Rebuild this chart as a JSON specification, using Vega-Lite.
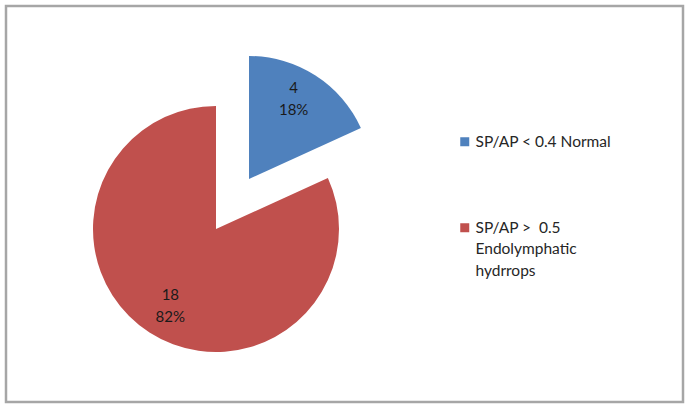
{
  "$schema": "https://vega.github.io/schema/vega-lite/v6.json",
  "description": "SP/AP ratio: normal vs endolymphatic hydrops",
  "width": 677,
  "height": 396,
  "padding": {"left": 4, "top": 4, "right": 5, "bottom": 4},
  "data": {
    "values": [
      {"category": "SP/AP < 0.4 Normal", "count": 4, "percent": "18%", "order": 1},
      {"category": "SP/AP >  0.5 Endolymphatic hydrrops", "count": 18, "percent": "82%", "order": 2}
    ]
  },
  "transform": [
    {"calculate": "datum.count + '\\n' + datum.percent", "as": "label"}
  ],
  "layer": [
    {
      "transform": [{"aggregate": [{"op": "count", "as": "n"}]}],
      "mark": {"type": "rect", "fill": null, "stroke": "#a6a6a6", "strokeWidth": 2.5}
    },
    {
      "encoding": {
        "theta": {"field": "count", "type": "quantitative", "stack": true},
        "order": {"field": "order", "type": "quantitative"},
        "color": {
          "field": "category",
          "type": "nominal",
          "scale": {
            "domain": ["SP/AP < 0.4 Normal", "SP/AP >  0.5 Endolymphatic hydrrops"],
            "range": ["#4F81BD", "#C0504D"]
          },
          "legend": {
            "title": null,
            "orient": "none",
            "legendX": 451,
            "legendY": 128,
            "padding": 0,
            "symbolType": "square",
            "symbolSize": 81,
            "symbolStrokeWidth": 0,
            "labelFont": "Lato",
            "labelFontSize": 15.5,
            "labelColor": "#262626",
            "labelLimit": 300,
            "labelOffset": 3,
            "rowPadding": 69,
            "labelExpr": "datum.label == 'SP/AP >  0.5 Endolymphatic hydrrops' ? ['SP/AP >\u00a0 0.5', 'Endolymphatic', 'hydrrops'] : datum.label"
          }
        }
      },
      "layer": [
        {
          "mark": {"type": "arc", "radius": 123, "x": 210, "y": 223},
          "encoding": {
            "opacity": {"condition": {"test": "datum.order == 1", "value": 0}, "value": 1}
          }
        },
        {
          "mark": {"type": "arc", "radius": 123, "x": 243, "y": 173},
          "encoding": {
            "opacity": {"condition": {"test": "datum.order == 2", "value": 0}, "value": 1}
          }
        },
        {
          "mark": {"type": "text", "radius": 90, "x": 210, "y": 223, "dx": 3, "dy": -10, "font": "Lato", "fontSize": 15, "lineBreak": "\n", "lineHeight": 22},
          "encoding": {
            "text": {"field": "label", "type": "nominal"},
            "color": {"value": "#1a1a1a"},
            "opacity": {"condition": {"test": "datum.order == 1", "value": 0}, "value": 1}
          }
        },
        {
          "mark": {"type": "text", "radius": 90, "x": 243, "y": 173, "dx": -4, "dy": -15, "font": "Lato", "fontSize": 15, "lineBreak": "\n", "lineHeight": 22},
          "encoding": {
            "text": {"field": "label", "type": "nominal"},
            "color": {"value": "#1a1a1a"},
            "opacity": {"condition": {"test": "datum.order == 2", "value": 0}, "value": 1}
          }
        }
      ]
    }
  ],
  "config": {
    "font": "Lato",
    "style": {"guide-label": {"lineHeight": 21.5}}
  }
}
